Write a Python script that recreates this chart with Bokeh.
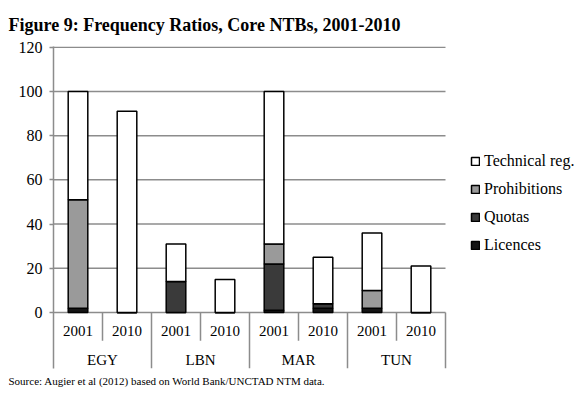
from bokeh.plotting import figure
from bokeh.models import Range1d, FixedTicker, Legend, LegendItem, Title, ColumnDataSource
from bokeh.core.properties import value
from bokeh.embed import file_html
from bokeh.resources import INLINE

countries = ["EGY", "LBN", "MAR", "TUN"]
years = ["2001", "2010"]
licences = [2, 0, 0, 0, 1, 2, 2, 0]
quotas = [0, 0, 14, 0, 21, 2, 0, 0]
prohibitions = [49, 0, 0, 0, 9, 0, 8, 0]
technical = [49, 91, 17, 15, 69, 21, 26, 21]
y_ticks = [0, 20, 40, 60, 80, 100, 120]
series = ["licences", "quotas", "prohibitions", "technical"]
series_labels = ["Licences", "Quotas", "Prohibitions", "Technical reg."]
title_text = "Figure 9: Frequency Ratios, Core NTBs, 2001-2010"
source_text = "Source: Augier et al (2012) based on World Bank/UNCTAD NTM data."

factors = [(c, y) for c in countries for y in years]
n = len(factors)
slot_x = [i + 0.5 for i in range(n)]  # centre of each category slot
src = ColumnDataSource(dict(x=slot_x, licences=licences, quotas=quotas,
                            prohibitions=prohibitions, technical=technical))

SERIF = "Liberation Serif"
SERIF_Q = "'Liberation Serif'"
GRID = "#8c8c8c"

W, H = 580, 396
LEFT = 53
PLOT_W = 392          # pixel width of the bar area; the rest holds the legend
x_end = n * (W - LEFT) / PLOT_W
y_bottom = -25.3
p = figure(width=W, height=H, x_range=Range1d(0, x_end), y_range=Range1d(y_bottom, 120.3),
           output_backend="svg", toolbar_location=None, x_axis_location=None,
           title=title_text, min_border_left=LEFT, min_border_right=0,
           min_border_top=45, min_border_bottom=28)
p.outline_line_color = None
p.background_fill_color = "white"
p.xgrid.visible = False
p.ygrid.visible = False

p.title.text_font = SERIF
p.title.text_font_style = "bold"
p.title.text_font_size = "18px"
p.title.text_color = "black"
p.title.align = "left"
p.title.offset = -45
p.title.standoff = 24

yax = p.yaxis[0]
yax.ticker = FixedTicker(ticks=y_ticks)
yax.major_tick_out = 4
yax.major_tick_in = 0
yax.minor_tick_line_color = None
yax.axis_line_color = GRID
yax.axis_line_width = 1.5
yax.major_tick_line_color = GRID
yax.major_tick_line_width = 1.5
yax.major_label_text_font = SERIF
yax.major_label_text_font_size = "16px"
yax.major_label_text_color = "black"
yax.major_label_standoff = 7

# horizontal gridlines across the bar area only
p.segment(x0=[0] * len(y_ticks), x1=[n] * len(y_ticks), y0=y_ticks, y1=y_ticks,
          line_color=GRID, line_width=1.5)

renderers = p.vbar_stack(series, x="x", width=0.4, source=src,
                         fill_color=["#141414", "#3a3a3a", "#9a9a9a", "white"],
                         line_color="black", line_width=1.5)

# category separators below the zero line
year_sep = [i for i in range(1, n) if i % len(years) != 0]
country_sep = [i for i in range(len(years), n + 1, len(years))]
p.segment(x0=year_sep, x1=year_sep, y0=[0] * len(year_sep), y1=[-12.7] * len(year_sep),
          line_color=GRID, line_width=1.5)
p.segment(x0=country_sep, x1=country_sep, y0=[0] * len(country_sep),
          y1=[y_bottom] * len(country_sep), line_color=GRID, line_width=1.5)

p.text(x=slot_x, y=[-8.5] * n, text=[f[1] for f in factors],
       text_font=value(SERIF_Q), text_font_size="15px", text_align="center",
       text_baseline="middle", text_color="black")
country_x = [len(years) * i + len(years) / 2 for i in range(len(countries))]
p.text(x=country_x, y=[-21.3] * len(countries), text=countries,
       text_font=value(SERIF_Q), text_font_size="15px", text_align="center",
       text_baseline="middle", text_color="black")

items = [LegendItem(label=series_labels[i], renderers=[renderers[i]]) for i in range(4)][::-1]
legend = Legend(items=items, location=(PLOT_W + 25, 113), margin=0, padding=0,
                border_line_color=None, background_fill_alpha=0,
                glyph_width=10, glyph_height=10, label_height=20, spacing=8,
                label_standoff=4, label_text_font=SERIF_Q, label_text_font_size="16px",
                label_text_color="black")
p.add_layout(legend)

p.add_layout(Title(text=source_text, align="left", offset=-45, text_font=SERIF,
                   text_font_size="11px", text_font_style="normal", text_color="black",
                   standoff=8), "below")

open("out.html", "w").write(file_html(p, INLINE))
